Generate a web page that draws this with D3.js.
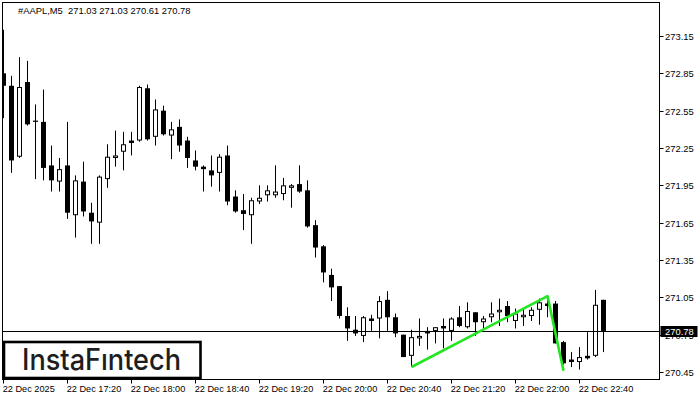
<!DOCTYPE html>
<html><head><meta charset="utf-8">
<script src="https://cdn.jsdelivr.net/npm/d3@7/dist/d3.min.js"></script>
<style>
html,body{margin:0;padding:0;background:#fff;}
svg{display:block;}
</style></head>
<body><svg id="c" width="700" height="400"></svg>
<script>
const symbolTitle = "#AAPL,M5  271.03 271.03 270.61 270.78";
const opens  = [272.85,272.75,272.18,272.78,272.47,272.46,272.11,271.98,272.11,271.71,271.98,271.73,271.65,272.00,272.17,272.22,272.31,272.31,272.73,272.34,272.55,272.35,272.42,272.31,272.15,272.10,272.07,272.05,272.19,271.86,271.75,271.71,271.82,271.87,271.87,271.88,271.93,271.96,271.91,271.63,271.46,271.23,271.14,270.90,270.79,270.74,270.88,270.88,271.03,270.89,270.75,270.58,270.72,270.78,270.78,270.82,270.78,270.89,270.81,270.93,270.85,270.89,270.93,270.98,270.86,270.89,270.90,270.95,271.00,271.00,270.69,270.55,270.53,270.58,270.58,271.03];
const highs  = [273.20,272.83,272.98,272.95,272.60,272.72,272.27,272.17,272.46,272.03,272.14,271.81,272.03,272.28,272.39,272.38,272.38,272.75,272.76,272.64,272.59,272.46,272.48,272.34,272.23,272.11,272.19,272.20,272.27,271.91,271.88,271.85,271.95,271.95,272.11,272.01,271.96,272.11,271.99,271.67,271.47,271.28,271.14,270.97,270.90,270.90,270.91,271.06,271.10,270.92,270.75,270.79,270.88,270.81,270.81,270.88,270.89,270.98,271.01,270.93,270.90,271.01,271.04,271.02,270.96,270.96,270.97,271.04,271.04,271.02,270.70,270.61,270.65,270.77,271.11,271.03];
const lows   = [272.49,272.05,272.17,272.43,272.00,271.99,271.90,271.90,271.68,271.53,271.70,271.48,271.48,271.93,272.10,272.07,272.19,272.30,272.31,272.27,272.35,272.16,272.22,272.09,272.07,271.90,271.94,271.90,271.79,271.73,271.59,271.48,271.80,271.82,271.85,271.83,271.77,271.89,271.61,271.37,271.17,271.02,270.88,270.70,270.74,270.69,270.78,270.72,270.78,270.73,270.57,270.49,270.66,270.63,270.68,270.64,270.70,270.81,270.80,270.74,270.80,270.85,270.82,270.85,270.80,270.82,270.86,270.83,270.89,270.68,270.51,270.49,270.47,270.55,270.57,270.61];
const closes = [272.75,272.15,272.74,272.44,272.46,272.09,271.99,272.08,271.73,271.99,271.74,271.66,272.02,272.18,272.19,272.28,272.29,272.74,272.32,272.56,272.36,272.40,272.27,272.17,272.10,272.08,272.03,272.18,271.82,271.74,271.72,271.83,271.85,271.91,271.90,271.95,271.95,271.90,271.62,271.45,271.25,271.13,270.90,270.80,270.76,270.89,270.86,271.02,270.89,270.76,270.57,270.73,270.74,270.76,270.81,270.80,270.88,270.82,270.94,270.85,270.88,270.92,270.95,270.90,270.92,270.91,270.95,271.01,270.98,270.68,270.52,270.53,270.57,270.56,270.99,270.78];
const priceTicks = [273.15,272.85,272.55,272.25,271.95,271.65,271.35,271.05,270.75,270.45];
const timeTickIndex = [0,8,16,24,32,40,48,56,64,72];
const timeTickLabels = ["22 Dec 2025","22 Dec 17:20","22 Dec 18:00","22 Dec 18:40","22 Dec 19:20","22 Dec 20:00","22 Dec 20:40","22 Dec 21:20","22 Dec 22:00","22 Dec 22:40"];
const patternIndex = [51,68,70];
const patternPrice = [270.49,271.06,270.46];
const lastPrice = 270.78;

const svg = d3.select("#c");
const L = 2.5, T = 2.5, R = 659.5, B = 379.5;
const font = "'Liberation Sans', Arial, sans-serif";

const x = d3.scaleLinear().domain([0, 75]).range([3.5, 603.5]);
const y = d3.scaleLinear().domain([270.45, 273.15]).range([372, 36]);

svg.append("defs").append("clipPath").attr("id","plot")
  .append("rect").attr("x",L).attr("y",T).attr("width",R-L).attr("height",B-T);

const g = svg.append("g").attr("clip-path","url(#plot)");

const bars = d3.range(opens.length).map(i => ({i, o:opens[i], h:highs[i], l:lows[i], c:closes[i]}));

// wicks
g.selectAll("line.wick").data(bars).join("line")
  .attr("x1", d => x(d.i)).attr("x2", d => x(d.i))
  .attr("y1", d => y(d.h)).attr("y2", d => y(d.l))
  .attr("stroke","#000").attr("stroke-width",1);

// bodies
bars.forEach(d => {
  const yo = y(d.o), yc = y(d.c);
  if (d.c > d.o) {
    const h = Math.max(yo - yc - 1, 0.5);
    g.append("rect").attr("x", x(d.i)-2).attr("y", yc+0.5).attr("width",4).attr("height",h)
      .attr("fill","#fff").attr("stroke","#000").attr("stroke-width",1);
  } else {
    const h = Math.max(yc - yo, 1.2);
    g.append("rect").attr("x", x(d.i)-2.5).attr("y", yo).attr("width",5).attr("height",h)
      .attr("fill","#000");
  }
});

// last price line
const ly = Math.round(y(lastPrice)) + 0.5;
g.append("line").attr("x1",L).attr("x2",R).attr("y1",ly).attr("y2",ly)
  .attr("stroke","#000").attr("stroke-width",1);

// pattern
const pts = patternIndex.map((k,j)=>[x(k), y(patternPrice[j])]);
g.append("path").attr("d", d3.line()(pts)).attr("fill","none")
  .attr("stroke","#22e622").attr("stroke-width",2.6).attr("stroke-linejoin","round");

// frame
svg.append("rect").attr("x",L).attr("y",T).attr("width",R-L).attr("height",B-T)
  .attr("fill","none").attr("stroke","#000").attr("stroke-width",1);

// price axis
const pa = svg.append("g");
priceTicks.forEach(p => {
  const yy = Math.round(y(p)) + 0.5;
  pa.append("line").attr("x1",R).attr("x2",R+4).attr("y1",yy).attr("y2",yy).attr("stroke","#000");
  pa.append("text").attr("x",R+5.5).attr("y",yy).attr("dy","0.35em")
    .attr("font-family",font).attr("font-size",9.4).attr("fill","#000").text(p.toFixed(2));
});
// last price box
pa.append("rect").attr("x",R+1).attr("y",ly-5.5).attr("width",37).attr("height",11).attr("fill","#000");
pa.append("text").attr("x",R+5.5).attr("y",ly).attr("dy","0.36em")
  .attr("font-family",font).attr("font-size",9.4).attr("fill","#fff").text(lastPrice.toFixed(2));

// time axis
const ta = svg.append("g");
timeTickIndex.forEach((k,j) => {
  const xx = x(k);
  ta.append("line").attr("x1",xx).attr("x2",xx).attr("y1",B).attr("y2",B+4).attr("stroke","#000");
  ta.append("text").attr("x",xx-0.8).attr("y",392).attr("font-family",font).attr("font-size",9.2)
    .attr("fill","#000").text(timeTickLabels[j]);
});

// title
svg.append("text").attr("x",18).attr("y",14).attr("font-family",font).attr("font-size",9.4)
  .attr("fill","#000").attr("xml:space","preserve").style("white-space","pre").text(symbolTitle);

// logo
svg.append("rect").attr("x",4).attr("y",342).attr("width",196.5).attr("height",36)
  .attr("fill","#fff").attr("stroke","#000").attr("stroke-width",2.6);
svg.append("text").attr("x",22).attr("y",370).attr("font-family","Inter, 'Noto Sans', sans-serif")
  .attr("font-size",29.5).attr("font-weight",500).attr("fill","#1e1e1e")
  .attr("textLength",159).attr("lengthAdjust","spacingAndGlyphs").text("InstaF\u0131ntech");
</script></body></html>
